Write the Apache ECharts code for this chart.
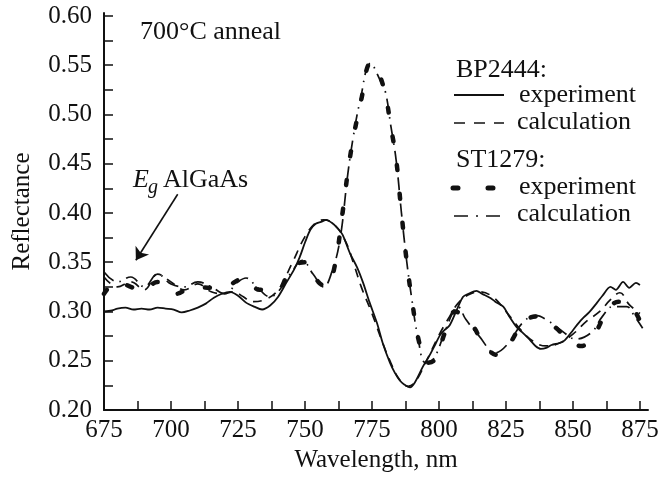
<!DOCTYPE html>
<html>
<head>
<meta charset="utf-8">
<script src="https://cdn.jsdelivr.net/npm/echarts@6/dist/echarts.min.js"></script>
<style>html,body{margin:0;padding:0;background:#fff}#c{width:672px;height:477px}</style>
</head>
<body>
<div id="c"></div>
<script>
// ---- data ----
var xTickLabels = [675, 700, 725, 750, 775, 800, 825, 850, 875];
var yTickLabels = [0.20, 0.25, 0.30, 0.35, 0.40, 0.45, 0.50, 0.55, 0.60];

var bpExpX = [675,678,680,683,686,689,692,695,698,701,704,707,710,713,716,719,722,725,728,731,734,737,740,743,746,748,750,752,754,756,758,760,762,764,766.8,769.4,771.7,774,776.9,779,781.7,783.5,785.4,787,789.2,791,794,796.6,798.5,800.4,802,804,806.7,809,811,814,816,819,821,824,826,829,831,834,836,838,840,842,845,847,850,852,854,856,859,861,864,866,868.7,871,873.5,875];
var bpExpY = [0.300,0.301,0.303,0.304,0.302,0.303,0.302,0.304,0.303,0.302,0.299,0.301,0.304,0.308,0.314,0.318,0.320,0.316,0.309,0.305,0.302,0.306,0.315,0.329,0.343,0.355,0.370,0.383,0.389,0.391,0.393,0.390,0.385,0.378,0.359,0.345,0.329,0.310,0.288,0.268,0.248,0.238,0.230,0.226,0.223,0.228,0.244,0.256,0.266,0.276,0.281,0.286,0.302,0.315,0.318,0.321,0.318,0.314,0.310,0.305,0.296,0.284,0.279,0.271,0.265,0.262,0.263,0.266,0.268,0.271,0.281,0.288,0.294,0.299,0.309,0.316,0.325,0.322,0.330,0.324,0.329,0.327];

var bpCalcX = [675,680,685,690,695,700,705,710,715,720,723,727,730,735,740,745,750,754,757,761,765,768,771,775,779,782,785,788.5,791,795,800,804,807,811,815,820,825,830,835,840,845,850,855,860,864,867.5,871,875];
var bpCalcY = [0.335,0.325,0.330,0.322,0.338,0.330,0.322,0.328,0.320,0.318,0.320,0.315,0.310,0.312,0.322,0.348,0.376,0.390,0.393,0.388,0.372,0.350,0.325,0.298,0.268,0.248,0.232,0.224,0.228,0.248,0.276,0.295,0.308,0.317,0.320,0.315,0.300,0.283,0.270,0.265,0.268,0.277,0.290,0.300,0.312,0.319,0.307,0.298];

var stExpX = [675,680,685,689,695,702,708,715,720,727.6,733,739.5,745,750,755,758,761,764,767,771,774.5,777,780,782,784,786,788,790,792.5,795.5,798,803,806,809,813,816,821.6,826,831.5,836.5,841,845,849,853,857,862.7,867,871,874,876];
var stExpY = [0.318,0.330,0.325,0.321,0.330,0.318,0.325,0.324,0.325,0.334,0.322,0.322,0.345,0.350,0.330,0.325,0.345,0.400,0.460,0.515,0.552,0.545,0.520,0.488,0.455,0.400,0.350,0.310,0.270,0.248,0.250,0.284,0.300,0.296,0.284,0.270,0.256,0.266,0.289,0.295,0.289,0.280,0.270,0.265,0.272,0.300,0.310,0.308,0.296,0.283];

var stCalcX = [675,680,685,690,695,700,705,710,715,720,725,728,732,737,740,745,749,753,757,760,763,766,768,770.5,774.5,778,780,782,784,786,788,790,792,795,798,802,805,807,810,815,821,826,831,836,841,846,851,857,861,865,870,873,876];
var stCalcY = [0.340,0.330,0.335,0.325,0.338,0.328,0.325,0.330,0.325,0.318,0.330,0.334,0.325,0.315,0.320,0.340,0.352,0.338,0.325,0.340,0.372,0.440,0.477,0.513,0.552,0.535,0.523,0.489,0.454,0.400,0.350,0.310,0.276,0.248,0.252,0.278,0.298,0.305,0.292,0.275,0.258,0.268,0.288,0.296,0.290,0.280,0.272,0.279,0.295,0.305,0.305,0.295,0.283];

function zip(xs, ys) { return xs.map(function (x, i) { return [x, ys[i]]; }); }

var xTickValues = [];
for (var t = 675; t <= 875; t += 12.5) xTickValues.push(t);
var yTickValues = [];
for (var k = 0; k <= 16; k++) yTickValues.push(+(0.2 + k * 0.025).toFixed(3));

var FONT = 'Liberation Serif';
var solidDash = 'solid';
var dashDash = [9, 7];
var dotDash = [5, 24];
var dashDotDash = [13, 6, 1.5, 6];

var chart = echarts.init(document.getElementById('c'), null, { renderer: 'canvas' });

var axisCommon = {
  axisLine: { show: true, lineStyle: { color: '#111', width: 2 } },
  splitLine: { show: false },
  nameTextStyle: { fontFamily: FONT, fontSize: 25, color: '#111' }
};

chart.setOption({
  animation: false,
  backgroundColor: '#fff',
  grid: { left: 104, right: 24, top: 13, bottom: 67, containLabel: false, outerBoundsMode: 'none' },
  xAxis: Object.assign({}, axisCommon, {
    type: 'value', min: 675, max: 878, interval: 25,
    name: 'Wavelength, nm', nameLocation: 'middle', nameGap: 34,
    axisTick: { show: true, inside: true, length: 9, lineStyle: { color: '#111', width: 1.5 }, customValues: xTickValues },
    axisLabel: { fontFamily: FONT, fontSize: 25, color: '#111', margin: 8, customValues: xTickLabels }
  }),
  yAxis: Object.assign({}, axisCommon, {
    type: 'value', min: 0.2, max: 0.603, interval: 0.05,
    name: 'Reflectance', nameLocation: 'middle', nameGap: 69, nameRotate: 90,
    axisTick: { show: true, inside: true, length: 9, lineStyle: { color: '#111', width: 1.5 }, customValues: yTickValues },
    axisLabel: { fontFamily: FONT, fontSize: 25, color: '#111', margin: 12, customValues: yTickLabels,
      formatter: function (v) { return v.toFixed(2); } }
  }),
  series: [
    {
      name: 'BP2444 experiment', type: 'line', data: zip(bpExpX, bpExpY), showSymbol: false, smooth: 0.3,
      lineStyle: { color: '#111', width: 1.8, type: solidDash },
      markLine: {
        silent: true, symbol: ['none', 'arrow'], symbolSize: 12,
        label: { show: false },
        itemStyle: { color: '#111' },
        lineStyle: { color: '#111', width: 1.6, type: 'solid' },
        emphasis: { disabled: true },
        data: [[{ coord: [702.5, 0.419], symbol: 'none' }, { coord: [686.9, 0.352], symbol: 'arrow', symbolSize: 12 }]]
      }
    },
    {
      name: 'BP2444 calculation', type: 'line', data: zip(bpCalcX, bpCalcY), showSymbol: false, smooth: 0.4,
      lineStyle: { color: '#111', width: 1.7, type: dashDash }
    },
    {
      name: 'ST1279 experiment', type: 'line', data: zip(stExpX, stExpY), showSymbol: false, smooth: 0.4,
      lineStyle: { color: '#111', width: 4.5, type: dotDash, cap: 'round' }
    },
    {
      name: 'ST1279 calculation', type: 'line', data: zip(stCalcX, stCalcY), showSymbol: false, smooth: 0.4,
      lineStyle: { color: '#111', width: 1.7, type: dashDotDash }
    }
  ],
  graphic: [
    { type: 'text', left: 140, top: 19, style: { text: '700°C anneal', font: '26px "Liberation Serif"', fill: '#111' } },
    { type: 'text', x: 133, y: 180, style: { text: 'E', font: 'italic 26px "Liberation Serif"', fill: '#111', verticalAlign: 'middle' } },
    { type: 'text', x: 148, y: 188, style: { text: 'g', font: 'italic 20px "Liberation Serif"', fill: '#111', verticalAlign: 'middle' } },
    { type: 'text', x: 163, y: 180, style: { text: 'AlGaAs', font: '26px "Liberation Serif"', fill: '#111', verticalAlign: 'middle' } },

    { type: 'text', x: 456, y: 70, style: { text: 'BP2444:', font: '26px "Liberation Serif"', fill: '#111', verticalAlign: 'middle' } },
    { type: 'line', shape: { x1: 454, y1: 95, x2: 504, y2: 95 }, style: { stroke: '#111', lineWidth: 1.8 } },
    { type: 'text', x: 519, y: 95, style: { text: 'experiment', font: '26px "Liberation Serif"', fill: '#111', verticalAlign: 'middle' } },
    { type: 'line', shape: { x1: 454, y1: 123, x2: 504, y2: 123 }, style: { stroke: '#111', lineWidth: 1.7, lineDash: [11, 9] } },
    { type: 'text', x: 517, y: 122, style: { text: 'calculation', font: '26px "Liberation Serif"', fill: '#111', verticalAlign: 'middle' } },

    { type: 'text', x: 456, y: 160, style: { text: 'ST1279:', font: '26px "Liberation Serif"', fill: '#111', verticalAlign: 'middle' } },
    { type: 'line', shape: { x1: 453, y1: 188, x2: 494, y2: 188 }, style: { stroke: '#111', lineWidth: 5, lineDash: [5, 30], lineCap: 'round' } },
    { type: 'text', x: 519, y: 187, style: { text: 'experiment', font: '26px "Liberation Serif"', fill: '#111', verticalAlign: 'middle' } },
    { type: 'line', shape: { x1: 454, y1: 216, x2: 500, y2: 216 }, style: { stroke: '#111', lineWidth: 1.7, lineDash: [14, 8, 2, 8] } },
    { type: 'text', x: 517, y: 214, style: { text: 'calculation', font: '26px "Liberation Serif"', fill: '#111', verticalAlign: 'middle' } }
  ]
});
</script>
</body>
</html>
